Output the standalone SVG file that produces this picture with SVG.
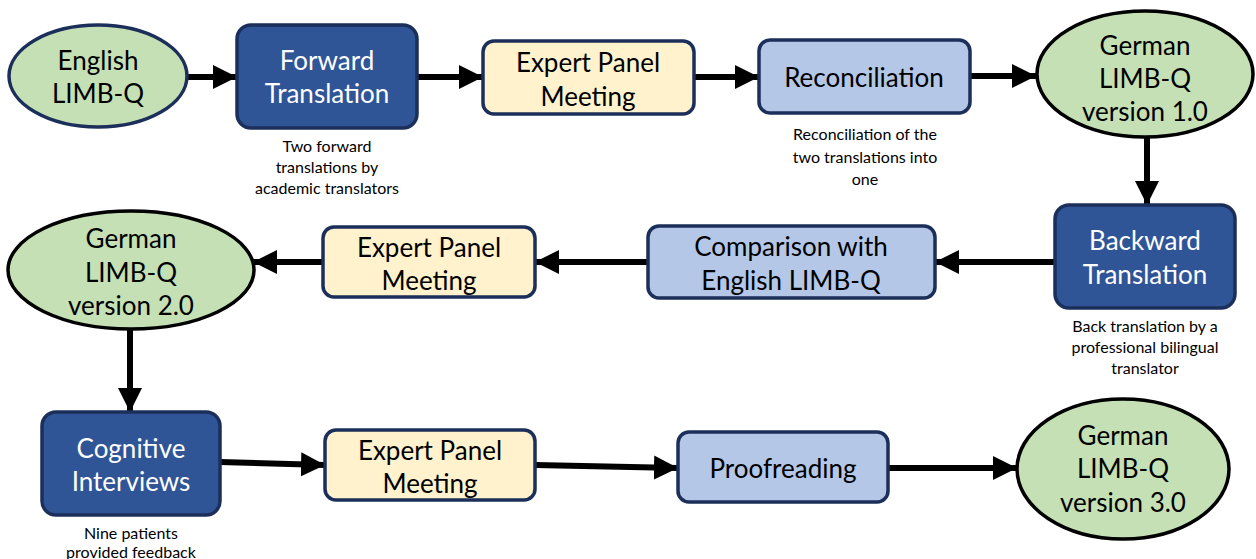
<svg xmlns="http://www.w3.org/2000/svg" width="1256" height="559" viewBox="0 0 1256 559">
<defs>
<marker id="ah" markerUnits="userSpaceOnUse" markerWidth="26" markerHeight="26" refX="24" refY="12" orient="auto">
<path d="M0,0 L24,12 L0,24 Z" fill="#000"/>
</marker>
<style>
.dark{fill:#2f5597;stroke:#1c2f5a;stroke-width:3.5}
.yel{fill:#fff2cc;stroke:#1c2f5a;stroke-width:3.5}
.lb{fill:#b4c7e7;stroke:#1c2f5a;stroke-width:3.5}
.gr{fill:#c5e0b4;stroke:#000;stroke-width:3.5}
.grn{fill:#c5e0b4;stroke:#1c2f5a;stroke-width:3.5}
text{font-family:Lato,"Open Sans",sans-serif;text-anchor:middle;dominant-baseline:central}
.t{font-size:26px;fill:#000}
.w{font-size:26px;fill:#fff}
.c{font-size:16px;fill:#000}
.con{stroke:#000;stroke-width:6;fill:none;marker-end:url(#ah)}
</style>
</defs>
<g id="connectors">
<line class="con" x1="188" y1="77" x2="237" y2="77"/>
<line class="con" x1="418" y1="77" x2="483" y2="77"/>
<line class="con" x1="695" y1="77" x2="759" y2="77"/>
<line class="con" x1="971" y1="76" x2="1036" y2="76"/>
<line class="con" x1="1147" y1="138" x2="1147" y2="205"/>
<line class="con" x1="1055" y1="262" x2="935" y2="262"/>
<line class="con" x1="648" y1="262" x2="535" y2="262"/>
<line class="con" x1="323" y1="262" x2="253" y2="262"/>
<line class="con" x1="130" y1="330" x2="130" y2="412"/>
<line class="con" x1="220" y1="462" x2="325" y2="465"/>
<line class="con" x1="535" y1="465" x2="678" y2="468"/>
<line class="con" x1="888" y1="468" x2="1017" y2="468"/>
</g>
<g id="english">
<ellipse class="grn" cx="98" cy="76" rx="89" ry="51"/>
<text class="t" x="98" y="60">English</text>
<text class="t" x="98" y="93">LIMB-Q</text>
</g>
<g id="forward">
<rect class="dark" x="237" y="25" width="180" height="103" rx="14"/>
<text class="w" x="327" y="60">Forward</text>
<text class="w" x="327" y="93">Translation</text>
<text class="c" x="327" y="145">Two forward</text>
<text class="c" x="327" y="166">translations by</text>
<text class="c" x="327" y="187">academic translators</text>
</g>
<g id="expert1">
<rect class="yel" x="483" y="41" width="211" height="73" rx="11"/>
<text class="t" x="588" y="62">Expert Panel</text>
<text class="t" x="588" y="96">Meeting</text>
</g>
<g id="reconciliation">
<rect class="lb" x="759" y="40" width="211" height="73" rx="11"/>
<text class="t" x="864" y="77">Reconciliation</text>
<text class="c" x="865" y="133">Reconciliation of the</text>
<text class="c" x="865" y="156">two translations into</text>
<text class="c" x="865" y="178">one</text>
</g>
<g id="german1">
<ellipse class="gr" cx="1145" cy="74" rx="108" ry="63"/>
<text class="t" x="1145" y="45">German</text>
<text class="t" x="1145" y="78">LIMB-Q</text>
<text class="t" x="1145" y="111">version 1.0</text>
</g>
<g id="backward">
<rect class="dark" x="1055" y="205" width="180" height="103" rx="14"/>
<text class="w" x="1145" y="240">Backward</text>
<text class="w" x="1145" y="274">Translation</text>
<text class="c" x="1145" y="325">Back translation by a</text>
<text class="c" x="1145" y="346">professional bilingual</text>
<text class="c" x="1145" y="367">translator</text>
</g>
<g id="comparison">
<rect class="lb" x="648" y="226" width="287" height="72" rx="11"/>
<text class="t" x="791" y="246">Comparison with</text>
<text class="t" x="791" y="280">English LIMB-Q</text>
</g>
<g id="expert2">
<rect class="yel" x="323" y="227" width="212" height="70" rx="11"/>
<text class="t" x="429" y="247">Expert Panel</text>
<text class="t" x="429" y="280">Meeting</text>
</g>
<g id="german2">
<ellipse class="gr" cx="131" cy="270" rx="123" ry="59"/>
<text class="t" x="131" y="238">German</text>
<text class="t" x="131" y="272">LIMB-Q</text>
<text class="t" x="131" y="305">version 2.0</text>
</g>
<g id="cognitive">
<rect class="dark" x="42" y="412" width="178" height="103" rx="14"/>
<text class="w" x="131" y="448">Cognitive</text>
<text class="w" x="131" y="481">Interviews</text>
<text class="c" x="131" y="532">Nine patients</text>
<text class="c" x="131" y="551">provided feedback</text>
</g>
<g id="expert3">
<rect class="yel" x="325" y="430" width="210" height="70" rx="11"/>
<text class="t" x="430" y="450">Expert Panel</text>
<text class="t" x="430" y="483">Meeting</text>
</g>
<g id="proofreading">
<rect class="lb" x="678" y="432" width="210" height="70" rx="11"/>
<text class="t" x="783" y="468">Proofreading</text>
</g>
<g id="german3">
<ellipse class="gr" cx="1123" cy="469" rx="106" ry="70"/>
<text class="t" x="1123" y="435">German</text>
<text class="t" x="1123" y="468">LIMB-Q</text>
<text class="t" x="1123" y="502">version 3.0</text>
</g>
</svg>
